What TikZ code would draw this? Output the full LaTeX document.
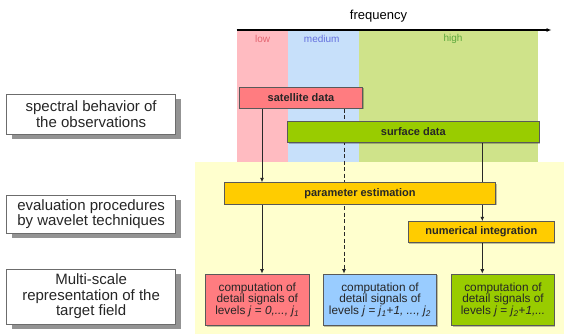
\documentclass[tikz,border=0pt]{standalone}
\usepackage{fontspec}
\setmainfont{Liberation Sans}
\usetikzlibrary{arrows.meta,shadows}
\pgfdeclarelayer{bg}
\pgfdeclarelayer{lines}
\pgfsetlayers{bg,lines,main}
\definecolor{lowband}{RGB}{255,187,193}
\definecolor{medband}{RGB}{199,224,250}
\definecolor{highband}{RGB}{207,227,138}
\definecolor{yellowbg}{RGB}{255,255,206}
\definecolor{redbox}{RGB}{255,124,128}
\definecolor{greenbox}{RGB}{153,204,0}
\definecolor{bluebox}{RGB}{153,204,255}
\definecolor{goldbox}{RGB}{255,204,0}
\definecolor{lowtxt}{RGB}{228,100,112}
\definecolor{medtxt}{RGB}{100,112,222}
\definecolor{hightxt}{RGB}{92,168,60}
\definecolor{linecol}{RGB}{40,40,40}
\tikzset{
  labelbox/.style={draw=gray!85!black, fill=white, line width=0.8pt, align=center, inner sep=0pt,
    font=\fontsize{15}{15.5}\selectfont, text=black!85,
    drop shadow={shadow xshift=5pt, shadow yshift=-5pt, fill=gray!85, opacity=1}},
  databox/.style={draw=black!65, line width=0.7pt, inner sep=0pt, font=\fontsize{11}{12}\selectfont\bfseries, text=black!85,
    drop shadow={shadow xshift=1pt, shadow yshift=-1.2pt, fill=black, opacity=0.25}},
  compbox/.style={draw=black!65, line width=0.7pt, inner sep=0pt, align=center, font=\fontsize{11.8}{11.5}\selectfont, text=black!85,
    drop shadow={shadow xshift=1pt, shadow yshift=-1.2pt, fill=black, opacity=0.25}},
  bandlbl/.style={font=\fontsize{10}{11}\selectfont, inner sep=0pt},
  conn/.style={draw=linecol, line width=0.9pt, -{Latex[length=4.5pt,width=4pt]}},
  dconn/.style={conn, dash pattern=on 4pt off 2.5pt}
}
\begin{document}
\begin{tikzpicture}[x=1pt,y=-1pt]
\useasboundingbox (0,0) rectangle (564,334);
% frequency axis
\coordinate (ax0) at (236.7,30);
\coordinate (ax1) at (551.5,30);
\node[font=\fontsize{13}{14}\selectfont, inner sep=0pt] (freq) at (378.5,16) {frequency};
\begin{pgfonlayer}{bg}
  \fill[yellowbg] (195,162) rectangle (564,334);
  \fill[lowband] (236.7,30) rectangle (287.7,162);
  \fill[medband] (287.7,30) rectangle (359.3,162);
  \fill[highband] (359.3,30) rectangle (538.3,162);
\end{pgfonlayer}
\draw[line width=1.3pt, -{Latex[length=5pt,width=4pt]}] (ax0) -- (ax1);
\node[bandlbl, text=lowtxt] (low) at (262.7,38.5) {low};
\node[bandlbl, text=medtxt] (med) at (321.7,38.5) {medium};
\node[bandlbl, text=hightxt] (high) at (453,38.5) {high};
% left label boxes
\node[labelbox, minimum width=169pt, minimum height=40pt] (lab1) at (91.1,114.2) {spectral behavior of\\the observations};
\node[labelbox, minimum width=169pt, minimum height=38.3pt] (lab2) at (91.1,214.2) {evaluation procedures\\by wavelet techniques};
\node[labelbox, minimum width=169pt, minimum height=55pt] (lab3) at (91.1,296.5) {Multi-scale\\representation of the\\target field};
% data boxes
\node[databox, fill=redbox, minimum width=123.4pt, minimum height=21pt] (sat) at (301,97.8) {satellite data};
\node[databox, fill=greenbox, minimum width=251.3pt, minimum height=21.7pt] (surf) at (413.3,131.8) {surface data};
\node[databox, fill=goldbox, minimum width=271.4pt, minimum height=21.3pt] (param) at (360,193.3) {parameter estimation};
\node[databox, fill=goldbox, minimum width=146pt, minimum height=20.8pt] (numint) at (481.3,232) {numerical integration};
% computation boxes
\node[compbox, fill=redbox, minimum width=103.3pt, minimum height=51.5pt] (cred) at (257.3,299.8)
  {computation of\\detail signals of\\levels \textit{j} = \textit{0,..., j}\textsubscript{\textit{1}}};
\node[compbox, fill=bluebox, minimum width=113.4pt, minimum height=51.5pt] (cblue) at (380,299.8)
  {computation of\\detail signals of\\levels \textit{j} = \textit{j}\textsubscript{\textit{1}}+\textit{1, ..., j}\textsubscript{\textit{2}}};
\node[compbox, fill=greenbox, minimum width=102.6pt, minimum height=51.5pt] (cgreen) at (503,299.8)
  {computation of\\detail signals of\\levels \textit{j} = \textit{j}\textsubscript{\textit{2}}+\textit{1,...}};
% connectors
\coordinate (cL) at (262,0);
\coordinate (cM) at (344,0);
\coordinate (cR) at (482.3,0);
\begin{pgfonlayer}{lines}
  \draw[conn] (sat.south -| cL) -- (param.north -| cL);
  \draw[conn] (param.south -| cL) -- (cred.north -| cL);
  \draw[dconn] (sat.south -| cM) -- (cblue.north -| cM);
  \draw[conn] (surf.south -| cR) -- (numint.north -| cR);
  \draw[conn] (numint.south -| cR) -- (cgreen.north -| cR);
\end{pgfonlayer}
\end{tikzpicture}
\end{document}
